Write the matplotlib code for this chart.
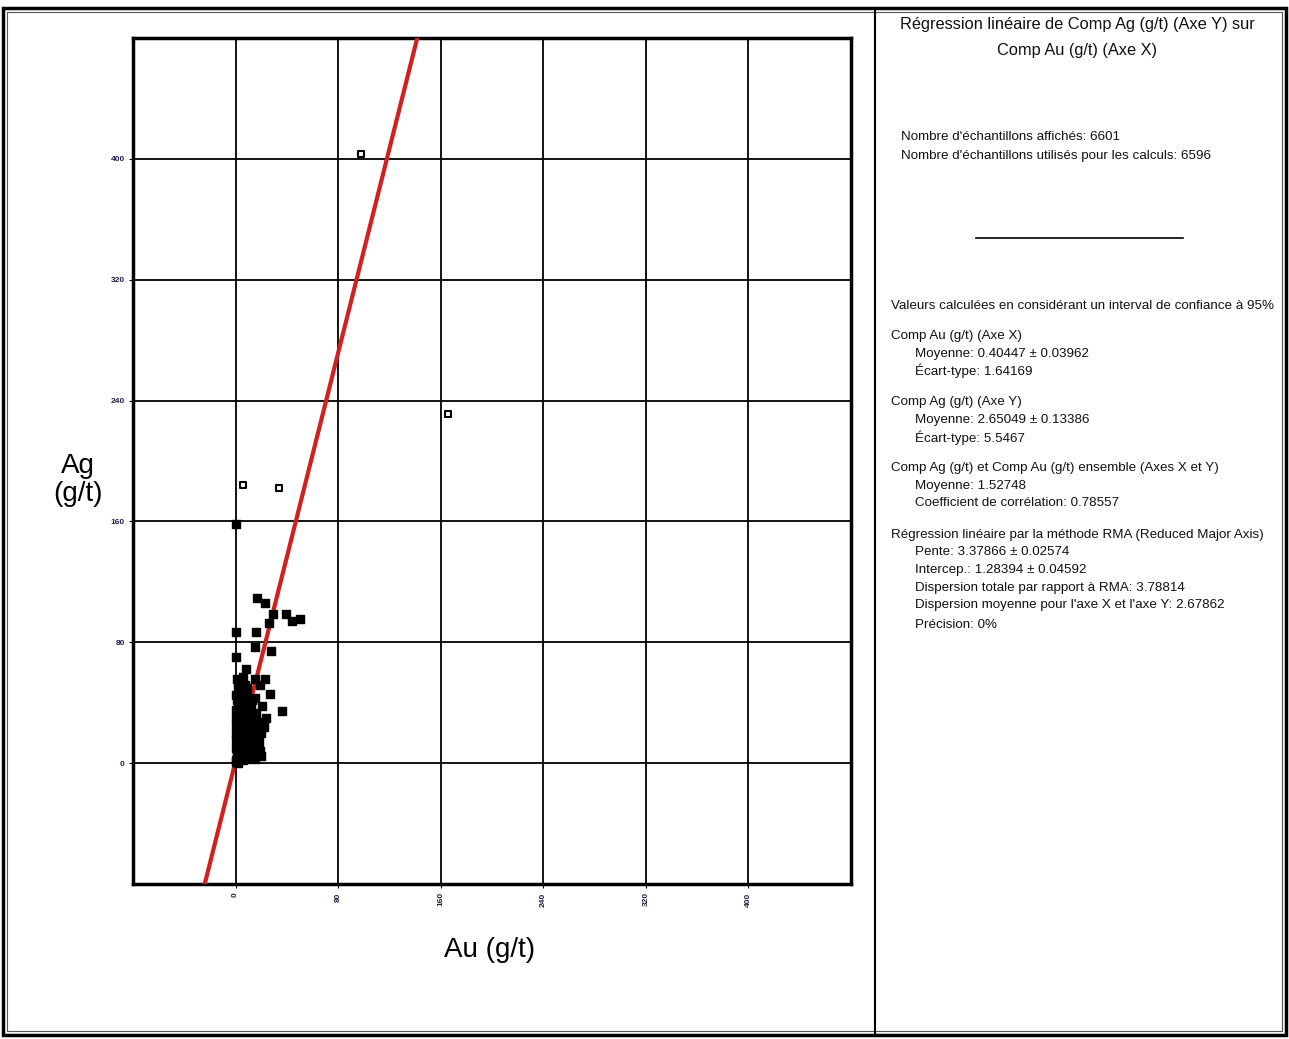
import matplotlib.pyplot as plt
from matplotlib.patches import Rectangle
from matplotlib.lines import Line2D

# --- data ---
ticks = [0, 80, 160, 240, 320, 400]

# open-marker outliers
au_open = [98, 166, 5.5, 33.5]
ag_open = [403, 231, 184, 182]

# filled markers (main cloud)
au_fill = [0, 16.4, 22.6, 28.9, 39, 43.7, 49.9, 25.7, 0, 15.6, 14.8, 28, 0, 7.8, 1, 7,
           14.8, 22.6, 18.7, 27, 36.6, 14.8, 6, 2, 4, 8, 0, 10, 3, 12, 5, 1, 16, 9, 2,
           14, 6, 18, 11, 0, 4, 16, 8, 13, 2, 20, 5, 10, 15, 0, 18, 7, 3, 12, 16, 9, 1,
           5, 20, 14, 3, 8, 0, 11, 17, 19, 6, 2, 0, 1, 4, 0, 2, 0.5, 6, 15, 22, 24, 13,
           9, 21,
           1, 3, 5, 7, 9, 2, 4, 6, 8, 10, 1, 3, 5, 7, 11, 2, 4, 6, 0, 1, 3, 5, 12, 8, 2,
           4, 6, 9, 13, 1, 3, 7, 10, 0, 2, 5]
ag_fill = [158, 109, 106, 99, 99, 94, 95.5, 93, 87, 87, 77, 74, 70, 62, 56, 52,
           56, 56, 52, 46, 34.5, 43, 57, 50, 48, 45, 45, 40, 40, 38, 36, 35, 33, 32, 30,
           30, 28, 27, 26, 25, 24, 23, 22, 20, 20, 20, 18, 17, 16, 15, 14, 13, 12, 11, 9,
           8, 8, 6, 5, 5, 3, 3, 2, 12, 6, 8, 9, 28, 35, 18, 5, 10, 0, 1, 2, 3, 24, 30, 42,
           50, 38,
           42, 38, 33, 29, 26, 22, 19, 16, 13, 10, 30, 26, 22, 18, 14, 40, 35, 31, 20, 12,
           8, 4, 20, 36, 15, 10, 6, 24, 27, 5, 17, 11, 16, 30, 34, 44]

# RMA regression
slope = 3.37866
intercept = 1.28394

title_lines = ["Régression linéaire de Comp Ag (g/t) (Axe Y) sur", "Comp Au (g/t) (Axe X)"]
count_lines = ["Nombre d'échantillons affichés: 6601",
               "Nombre d'échantillons utilisés pour les calculs: 6596"]
stats_lines = [
    (306, 0, "Valeurs calculées en considérant un interval de confiance à 95%"),
    (336, 0, "Comp Au (g/t) (Axe X)"),
    (354, 1, "Moyenne: 0.40447 ± 0.03962"),
    (371, 1, "Écart-type: 1.64169"),
    (402, 0, "Comp Ag (g/t) (Axe Y)"),
    (420, 1, "Moyenne: 2.65049 ± 0.13386"),
    (438, 1, "Écart-type: 5.5467"),
    (468, 0, "Comp Ag (g/t) et Comp Au (g/t) ensemble (Axes X et Y)"),
    (486, 1, "Moyenne: 1.52748"),
    (503, 1, "Coefficient de corrélation: 0.78557"),
    (535, 0, "Régression linéaire par la méthode RMA (Reduced Major Axis)"),
    (552, 1, "Pente: 3.37866 ± 0.02574"),
    (570, 1, "Intercep.: 1.28394 ± 0.04592"),
    (588, 1, "Dispersion totale par rapport à RMA: 3.78814"),
    (605, 1, "Dispersion moyenne pour l'axe X et l'axe Y: 2.67862"),
    (625, 1, "Précision: 0%"),
]

W, H = 1289, 1039
plt.rcParams['font.family'] = ['Liberation Sans', 'DejaVu Sans']
fig = plt.figure(figsize=(W / 100, H / 100), dpi=100)


def fx(px):
    return px / W


def fy(py):
    return 1 - py / H


ax = fig.add_axes([fx(133), fy(884), fx(851) - fx(133), fy(38) - fy(884)])
ax.set_xlim(-80, 480)
ax.set_ylim(-80, 480)
ax.set_xticks(ticks)
ax.set_yticks(ticks)
ax.set_xticklabels([str(t) for t in ticks], rotation=90, fontsize=6, color="#202040",
                   fontweight="bold")
ax.set_yticklabels([str(t) for t in ticks], fontsize=6, color="#202050",
                   fontweight="bold")
ax.tick_params(length=3, width=0.8, pad=3)
ax.grid(True, color="black", lw=1.3)
ax.set_axisbelow(True)
for s in ax.spines.values():
    s.set_linewidth(2.5)

xs = [-80, 480]
ax.plot(xs, [slope * x + intercept for x in xs], color="#d02020", lw=3, zorder=3)
ax.scatter(au_fill, ag_fill, s=28, marker="s", color="black", zorder=4)
ax.scatter(au_open, ag_open, s=22, marker="s", facecolor="white",
           edgecolor="black", lw=1.5, zorder=4)

fig.text(fx(78), fy(480), "Ag\n(g/t)", fontsize=20, ha="center", va="center",
         linespacing=1.1)
fig.text(fx(490), fy(950), "Au (g/t)", fontsize=20, ha="center", va="center")

# right-hand stats panel
for i, t in enumerate(title_lines):
    fig.text(fx(1077), fy(25 + i * 25), t, fontsize=11.8, ha="center", va="center",
             color="#111111")
for i, t in enumerate(count_lines):
    fig.text(fx(901), fy(137 + i * 19), t, fontsize=9.6, ha="left", va="center",
             color="#111111")
fig.add_artist(Line2D([fx(976), fx(1183)], [fy(238), fy(238)], color="black", lw=1.2))
for y, ind, t in stats_lines:
    fig.text(fx(891 + 24 * ind), fy(y), t, fontsize=9.6, ha="left", va="center",
             color="#111111")

# frames
fig.add_artist(Rectangle((fx(3), fy(1035)), fx(1283), fy(8) - fy(1035), fill=False,
                         ec="black", lw=2.5))
fig.add_artist(Rectangle((fx(7), fy(1031)), fx(1275), fy(12) - fy(1031), fill=False,
                         ec="#555555", lw=0.8))
fig.add_artist(Line2D([fx(875), fx(875)], [fy(10), fy(1033)], color="black", lw=1.5))

fig.savefig("out.png", dpi=100)
